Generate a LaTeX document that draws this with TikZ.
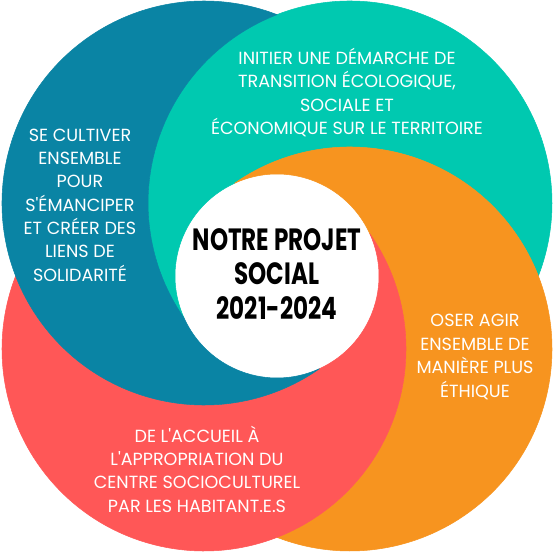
\documentclass[tikz,border=0pt]{standalone}
\usepackage{fontspec}
\setmainfont{Poppins}
\definecolor{swirlBlue}{HTML}{0A84A4}
\definecolor{swirlTeal}{HTML}{00C9B0}
\definecolor{swirlOrange}{HTML}{F7941F}
\definecolor{swirlRed}{HTML}{FF5757}
\tikzset{
  goal/.style={text=white, align=center, font=\fontsize{10}{13.3}\selectfont},
  motto/.style={text=black, align=center, xscale=0.75,
                font=\fontsize{17.5}{19.6}\selectfont\bfseries},
}

\begin{document}
\begin{tikzpicture}
\path[use as bounding box, fill=white] (-5.54,-5.54) rectangle (5.54,5.52);
% one petal per colour, turned by a quarter each time
\foreach \ang/\col in {0/swirlTeal, -90/swirlOrange, -180/swirlRed, 90/swirlBlue}{
  \begin{scope}[rotate=\ang]
  \filldraw[fill=\col, draw=\col, line width=0.3pt] (204.62:2.04)
    arc[start angle=214.87, end angle=-21.19, radius=4.04]
    arc[start angle=21.19, end angle=124.87, radius=4.04]
    arc[start angle=114.62, end angle=204.62, radius=2.04] -- cycle;
  \end{scope}
}
\node[goal] (cultiver) at (-3.94,1.42) {SE CULTIVER\\ENSEMBLE\\POUR\\S\textquotesingle ÉMANCIPER\\ET CRÉER DES\\LIENS DE\\SOLIDARITÉ};
\node[goal] (transition) at (1.40,3.67) {INITIER UNE DÉMARCHE DE\\TRANSITION ÉCOLOGIQUE,\\SOCIALE ET\\ÉCONOMIQUE SUR LE TERRITOIRE};
\node[goal] (ethique) at (3.96,-1.62) {OSER AGIR\\ENSEMBLE DE\\MANIÈRE PLUS\\ÉTHIQUE};
\node[goal] (accueil) at (-1.60,-3.86) {DE L\textquotesingle ACCUEIL À\\L\textquotesingle APPROPRIATION DU\\CENTRE SOCIOCULTUREL\\PAR LES HABITANT.E.S};
\node[motto] (projet) at (0,0.04) {NOTRE PROJET\\SOCIAL\\2021-2024};
\end{tikzpicture}
\end{document}
